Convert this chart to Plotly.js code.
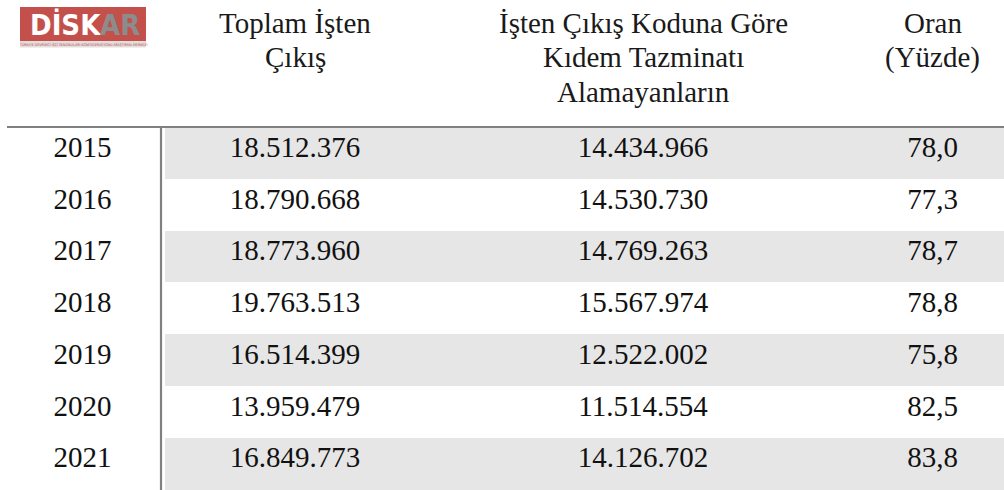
<!DOCTYPE html>
<html>
<head>
<meta charset="utf-8">
<script src="https://cdn.plot.ly/plotly-3.0.1.min.js"></script>
<style>
  html, body { margin: 0; padding: 0; background: #ffffff; }
  #chart { width: 1004px; height: 490px; }
</style>
</head>
<body>
<div id="chart"></div>
<script>
// ---- Data ----
const headers = ["", "Toplam İşten<br>Çıkış", "İşten Çıkış Koduna Göre<br>Kıdem Tazminatı<br>Alamayanların", "Oran<br>(Yüzde)"];
const years = ["2015", "2016", "2017", "2018", "2019", "2020", "2021"];
const toplamCikis = ["18.512.376", "18.790.668", "18.773.960", "19.763.513", "16.514.399", "13.959.479", "16.849.773"];
const alamayanlar = ["14.434.966", "14.530.730", "14.769.263", "15.567.974", "12.522.002", "11.514.554", "14.126.702"];
const oran = ["78,0", "77,3", "78,7", "78,8", "75,8", "82,5", "83,8"];

const W = 1004, H = 490;
const px = v => v / W;
const py = v => 1 - v / H;

const colWidths = [165, 260, 436, 143];
const HEADER_H = 127;

const shade = "#e6e6e6";
const bandColors = years.map((_, i) => (i % 2 === 0 ? shade : "#ffffff"));
const firstCol = years.map(() => "#ffffff");

const FONT = "Liberation Serif, Times New Roman, serif";
const FS = 29;

const trace = {
  type: "table",
  domain: { x: [0, 1], y: [0, 1] },
  columnwidth: colWidths,
  header: {
    values: headers.map(() => ""),
    align: "center",
    height: HEADER_H,
    fill: { color: "rgba(0,0,0,0)" },
    line: { width: 0, color: "rgba(0,0,0,0)" },
    font: { family: FONT, size: FS, color: "#1a1a1a" }
  },
  cells: {
    values: [years, toplamCikis, alamayanlar, oran],
    align: "center",
    height: (H - HEADER_H - 0.5) / years.length,
    fill: { color: [firstCol, bandColors, bandColors, bandColors] },
    line: { width: 0, color: "rgba(0,0,0,0)" },
    font: { family: FONT, size: FS, color: "#111111" }
  }
};

// header texts as centred annotations, one per line
const LINE_CENTER_Y = [23, 57.5, 92];
const total = colWidths.reduce((a, b) => a + b, 0);
let acc = 0;
const headerAnns = [];
colWidths.forEach((w, i) => {
  const c = (acc + w / 2) / total;
  acc += w;
  if (headers[i]) {
    headers[i].split("<br>").forEach((line, j) => {
      headerAnns.push({
        xref: "paper", yref: "paper", x: c, y: py(LINE_CENTER_Y[j]), text: line, showarrow: false,
        xanchor: "center", yanchor: "middle", align: "center",
        font: { family: FONT, size: FS, color: "#1a1a1a" }
      });
    });
  }
});

const layout = {
  width: W,
  height: H,
  margin: { l: 0, r: 0, t: 0, b: 0, pad: 0 },
  paper_bgcolor: "#ffffff",
  showlegend: false,
  shapes: [
    // header rule
    { type: "line", xref: "paper", yref: "paper", x0: px(7), x1: px(1004), y0: py(127), y1: py(127),
      line: { color: "#808080", width: 2.2 } },
    // vertical rule after first column
    { type: "line", xref: "paper", yref: "paper", x0: px(161), x1: px(161), y0: py(127), y1: py(490),
      line: { color: "#808080", width: 2.2 } },
    // logo red block
    { type: "rect", xref: "paper", yref: "paper", x0: px(20), x1: px(146), y0: py(7), y1: py(41),
      fillcolor: "#c4504c", line: { width: 0 } },
    // logo grey strip
    { type: "rect", xref: "paper", yref: "paper", x0: px(20), x1: px(146), y0: py(41), y1: py(47.5),
      fillcolor: "#e3dede", line: { width: 0 } }
  ],
  annotations: headerAnns.concat([
    { xref: "paper", yref: "paper", x: px(65.5), y: py(25), text: "<b>DİSK</b>", showarrow: false,
      xanchor: "center", yanchor: "middle",
      font: { family: "DejaVu Sans Condensed, DejaVu Sans, sans-serif", size: 29, color: "#ffffff" } },
    { xref: "paper", yref: "paper", x: px(120), y: py(25.5), text: "<b>AR</b>", showarrow: false,
      xanchor: "center", yanchor: "middle",
      font: { family: "DejaVu Sans Condensed, DejaVu Sans, sans-serif", size: 29, color: "#8c8c8c" } },
    { xref: "paper", yref: "paper", x: px(83), y: py(44.3), text: "TÜRKİYE DEVRİMCİ İŞÇİ SENDİKALARI KONFEDERASYONU ARAŞTIRMA MERKEZİ",
      showarrow: false, xanchor: "center", yanchor: "middle",
      font: { family: "DejaVu Sans Condensed, DejaVu Sans, sans-serif", size: 3.6, color: "#c4504c" } }
  ])
};

Plotly.newPlot("chart", [trace], layout, { displayModeBar: false, staticPlot: true });
</script>
</body>
</html>
